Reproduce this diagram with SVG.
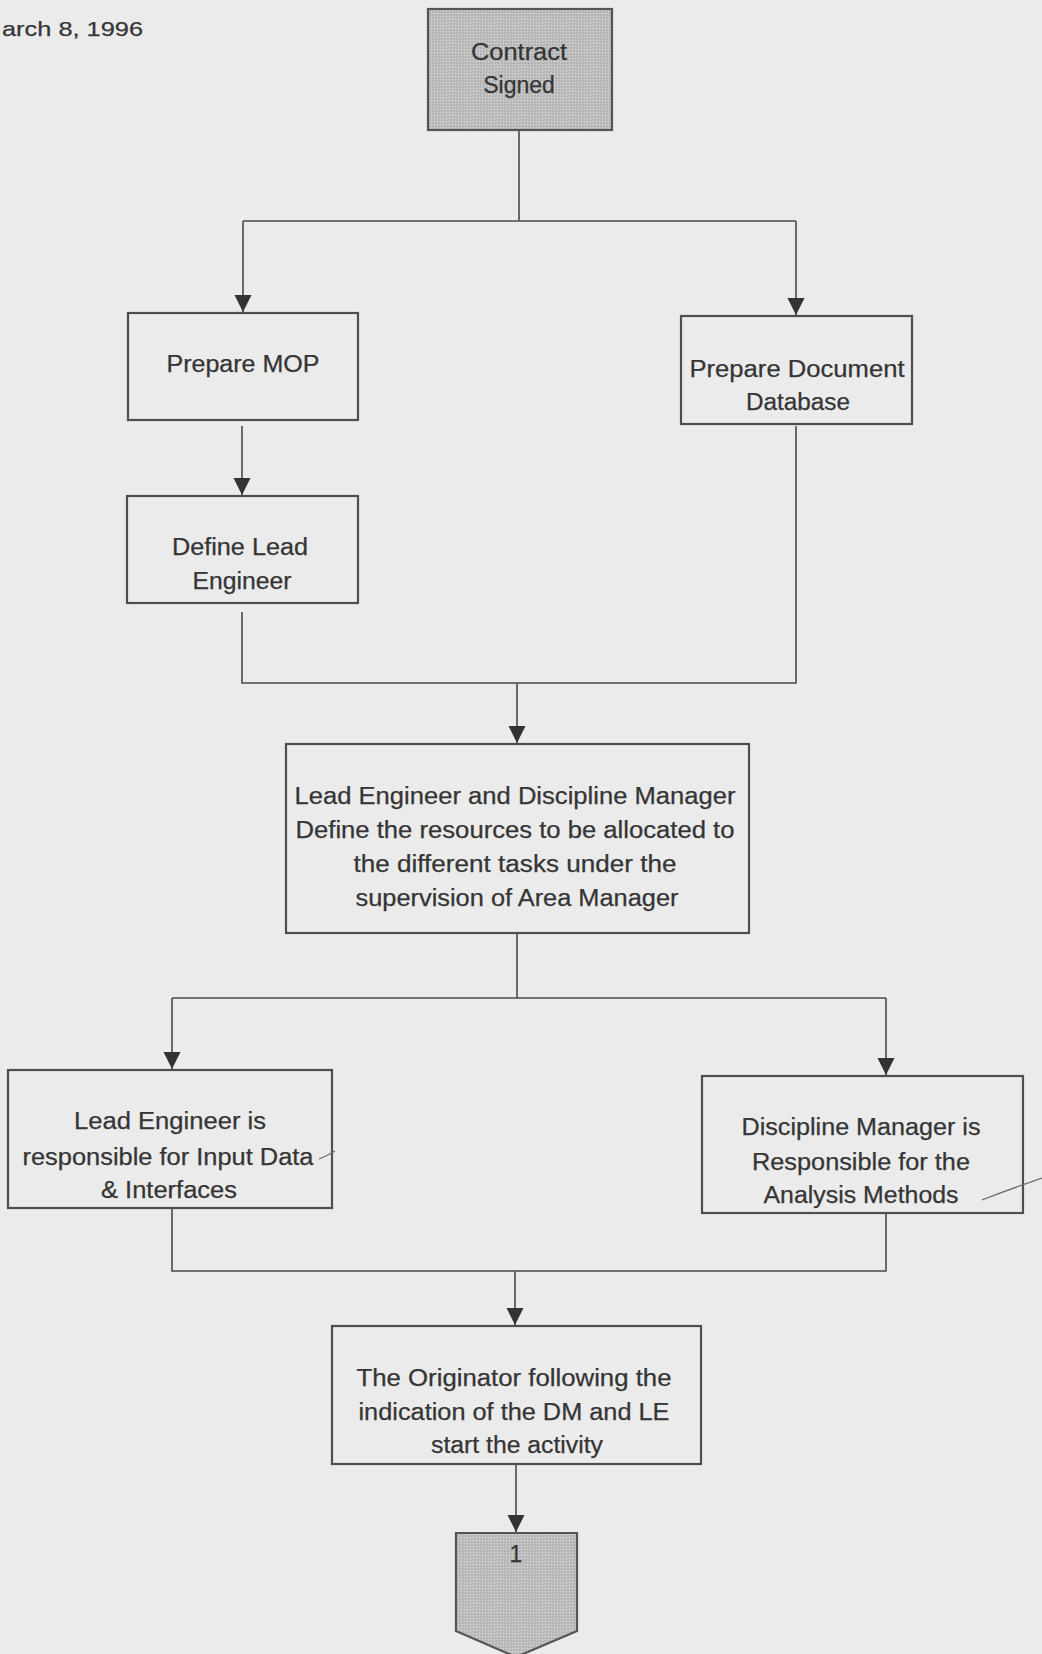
<svg xmlns="http://www.w3.org/2000/svg" width="1042" height="1654" viewBox="0 0 1042 1654">
  <defs>
    <style>
      .bg { fill: #ebebeb; }
      .box { fill: none; stroke: #4e4e4e; stroke-width: 2.2; }
      .shade { fill: url(#stipple); stroke: #555; stroke-width: 2.2; }
      .wire { fill: none; stroke: #4a4a4a; stroke-width: 1.6; }
      .lbl { font-family: "Liberation Sans", Arial, sans-serif; font-size: 23px; fill: #353535; stroke: #353535; stroke-width: 0.25; text-anchor: middle; }
      .date { font-family: "Liberation Sans", Arial, sans-serif; font-size: 21px; fill: #353535; stroke: #353535; stroke-width: 0.25; }
      .mark { fill: none; stroke: #6a6a6a; stroke-width: 1.3; }
    </style>
    <!-- fine stipple used for the start and off-page shapes -->
    <pattern id="stipple" width="3" height="3" patternUnits="userSpaceOnUse">
      <rect width="3" height="3" fill="#c0c0c0"/>
      <rect x="0" y="0" width="1" height="1" fill="#a6a6a6"/>
      <rect x="2" y="1" width="1" height="1" fill="#d4d4d4"/>
      <rect x="1" y="2" width="1" height="1" fill="#adadad"/>
    </pattern>
    <marker id="down" markerUnits="userSpaceOnUse" markerWidth="18" markerHeight="18" viewBox="0 0 18 18" refX="9" refY="17" orient="0">
      <path d="M0.5,0 L17.5,0 L9,17 Z" fill="#333"/>
    </marker>
  </defs>

  <rect class="bg" x="0" y="0" width="1042" height="1654"/>

  <text class="date" x="2" y="36" textLength="141" lengthAdjust="spacingAndGlyphs">arch 8, 1996</text>

  <!-- connectors -->
  <g id="connectors">
    <path class="wire" d="M519,130 V221"/>
    <path class="wire" d="M243,221 H796"/>
    <path class="wire" d="M243,221 V312" marker-end="url(#down)"/>
    <path class="wire" d="M796,221 V315" marker-end="url(#down)"/>
    <path class="wire" d="M242,426 V495" marker-end="url(#down)"/>
    <path class="wire" d="M242,612 V683 H796 V426"/>
    <path class="wire" d="M517,683 V743" marker-end="url(#down)"/>
    <path class="wire" d="M517,933 V998"/>
    <path class="wire" d="M172,998 H886"/>
    <path class="wire" d="M172,998 V1069" marker-end="url(#down)"/>
    <path class="wire" d="M886,998 V1075" marker-end="url(#down)"/>
    <path class="wire" d="M172,1208 V1271 H886 V1213"/>
    <path class="wire" d="M515,1271 V1325" marker-end="url(#down)"/>
    <path class="wire" d="M516,1464 V1532" marker-end="url(#down)"/>
  </g>

  <g id="contract-signed">
    <rect class="shade" x="428" y="9" width="184" height="121"/>
    <text class="lbl" x="519" y="60" textLength="96" lengthAdjust="spacingAndGlyphs">Contract</text>
    <text class="lbl" x="519" y="93">Signed</text>
  </g>

  <g id="prepare-mop">
    <rect class="box" x="128" y="313" width="230" height="107"/>
    <text class="lbl" x="243" y="372" textLength="153" lengthAdjust="spacingAndGlyphs">Prepare MOP</text>
  </g>

  <g id="prepare-document-database">
    <rect class="box" x="681" y="316" width="231" height="108"/>
    <text class="lbl" x="797" y="377" textLength="215" lengthAdjust="spacingAndGlyphs">Prepare Document</text>
    <text class="lbl" x="798" y="410" textLength="104" lengthAdjust="spacingAndGlyphs">Database</text>
  </g>

  <g id="define-lead-engineer">
    <rect class="box" x="127" y="496" width="231" height="107"/>
    <text class="lbl" x="240" y="555" textLength="136" lengthAdjust="spacingAndGlyphs">Define Lead</text>
    <text class="lbl" x="242" y="589" textLength="99" lengthAdjust="spacingAndGlyphs">Engineer</text>
  </g>

  <g id="define-resources">
    <rect class="box" x="286" y="744" width="463" height="189"/>
    <text class="lbl" x="515" y="804" textLength="441" lengthAdjust="spacingAndGlyphs">Lead Engineer and Discipline Manager</text>
    <text class="lbl" x="515" y="838" textLength="439" lengthAdjust="spacingAndGlyphs">Define the resources to be allocated to</text>
    <text class="lbl" x="515" y="872" textLength="323" lengthAdjust="spacingAndGlyphs">the different tasks under  the</text>
    <text class="lbl" x="517" y="906" textLength="323" lengthAdjust="spacingAndGlyphs">supervision of Area Manager</text>
  </g>

  <g id="lead-engineer-responsible">
    <rect class="box" x="8" y="1070" width="324" height="138"/>
    <text class="lbl" x="170" y="1129" textLength="192" lengthAdjust="spacingAndGlyphs">Lead Engineer is</text>
    <text class="lbl" x="168" y="1165" textLength="291" lengthAdjust="spacingAndGlyphs">responsible for Input Data</text>
    <text class="lbl" x="169" y="1198" textLength="136" lengthAdjust="spacingAndGlyphs">&amp; Interfaces</text>
    <path class="mark" d="M319,1159 L326,1156 L335,1151"/>
  </g>

  <g id="discipline-manager-responsible">
    <rect class="box" x="702" y="1076" width="321" height="137"/>
    <text class="lbl" x="861" y="1135" textLength="239" lengthAdjust="spacingAndGlyphs">Discipline Manager is</text>
    <text class="lbl" x="861" y="1170" textLength="218" lengthAdjust="spacingAndGlyphs">Responsible for the</text>
    <text class="lbl" x="861" y="1203" textLength="195" lengthAdjust="spacingAndGlyphs">Analysis Methods</text>
    <path class="mark" d="M982,1200 Q1010,1189 1042,1178"/>
  </g>

  <g id="originator-start">
    <rect class="box" x="332" y="1326" width="369" height="138"/>
    <text class="lbl" x="514" y="1386" textLength="315" lengthAdjust="spacingAndGlyphs">The Originator following the</text>
    <text class="lbl" x="514" y="1420" textLength="311" lengthAdjust="spacingAndGlyphs">indication of the DM and LE</text>
    <text class="lbl" x="517" y="1453" textLength="172" lengthAdjust="spacingAndGlyphs">start the activity</text>
  </g>

  <g id="off-page-1">
    <path class="shade" d="M456,1533 H577 V1631 L516,1657 L456,1631 Z"/>
    <text class="lbl" x="516" y="1562" font-size="21">1</text>
  </g>
</svg>
